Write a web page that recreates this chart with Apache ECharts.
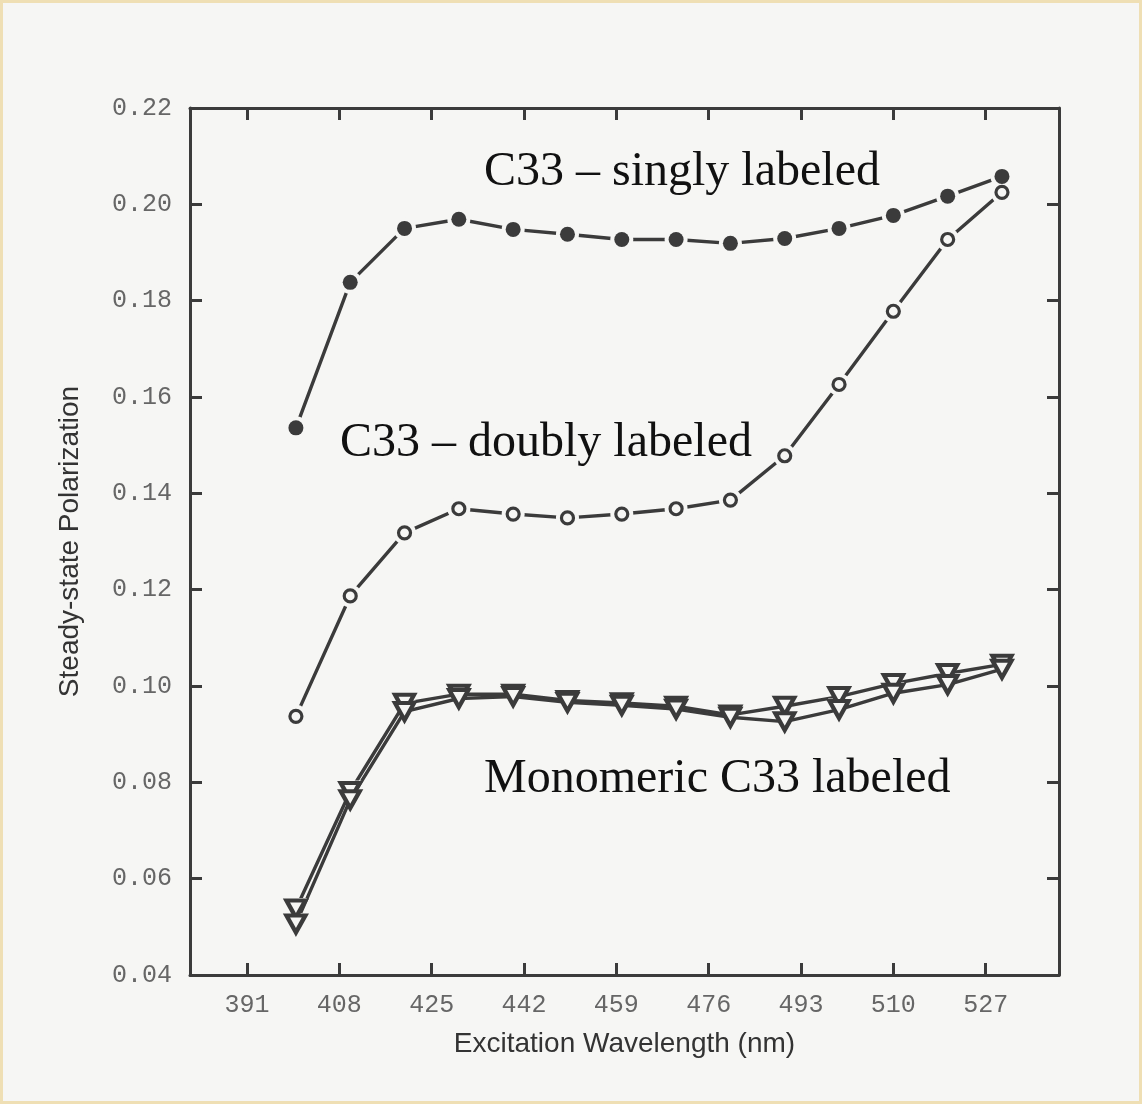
<!DOCTYPE html>
<html>
<head>
<meta charset="utf-8">
<script src="https://cdn.jsdelivr.net/npm/echarts@6/dist/echarts.min.js"></script>
<style>
  html, body { margin: 0; padding: 0; background: #f6f6f4; }
  #chart { position: absolute; left: 0; top: 0; width: 1142px; height: 1104px; }
  #frame { position: absolute; left: 0; top: 0; width: 1142px; height: 1104px; box-sizing: border-box; border: 3px solid #efdfb4; pointer-events: none; }
</style>
</head>
<body>
<div id="chart"></div>
<div id="frame"></div>
<script>
// Excitation wavelengths (nm) of the measured points
const wavelengths = [400, 410, 420, 430, 440, 450, 460, 470, 480, 490, 500, 510, 520, 530];
// Steady-state polarization values
const singly  = [0.1536, 0.1838, 0.1950, 0.1969, 0.1948, 0.1938, 0.1927, 0.1927, 0.1919, 0.1929, 0.1950, 0.1977, 0.2017, 0.2058];
const doubly  = [0.0937, 0.1187, 0.1318, 0.1368, 0.1357, 0.1349, 0.1357, 0.1368, 0.1386, 0.1478, 0.1626, 0.1778, 0.1927, 0.2025];
const monoA   = [0.0537, 0.0781, 0.0964, 0.0983, 0.0983, 0.0970, 0.0965, 0.0958, 0.0940, 0.0958, 0.0978, 0.1005, 0.1026, 0.1045];
const monoB   = [0.0506, 0.0764, 0.0947, 0.0974, 0.0978, 0.0966, 0.0960, 0.0952, 0.0935, 0.0926, 0.0951, 0.0985, 0.1003, 0.1035];
// Axis tick labels
const xTicks = [391, 408, 425, 442, 459, 476, 493, 510, 527];
const yMin = 0.04, yMax = 0.22, yStep = 0.02;
// Annotation texts
const labels = ['C33 \u2013 singly labeled', 'C33 \u2013 doubly labeled', 'Monomeric C33 labeled'];

const BG = '#f6f6f4';
const INK = '#3b3b3b';
const pairs = arr => wavelengths.map((w, i) => [w, arr[i]]);

const chart = echarts.init(document.getElementById('chart'), null, { renderer: 'canvas' });

const axisLine = { show: true, lineStyle: { color: INK, width: 3 } };
const tickStyle = { show: true, inside: true, length: 12, lineStyle: { color: INK, width: 3 } };
const monoFont = { fontFamily: 'Liberation Mono', fontSize: 25, color: '#666' };

function lineSeries(data) {
  return { type: 'line', data: pairs(data), showSymbol: false, symbol: 'none', z: 2,
           lineStyle: { color: INK, width: 3.4 }, silent: true, animation: false };
}
function haloSeries(data, size, symbol, rotate) {
  return { type: 'scatter', data: pairs(data), symbol: symbol, symbolSize: size, symbolRotate: rotate || 0, z: 3,
           itemStyle: { color: BG, opacity: 1 }, silent: true, animation: false };
}

const option = {
  backgroundColor: BG,
  animation: false,
  grid: { left: 190, right: 83, top: 108, bottom: 129 },
  xAxis: [
    {
      type: 'value', min: 380.5, max: 540.5, position: 'bottom',
      axisLine: axisLine,
      axisTick: Object.assign({}, tickStyle, { customValues: xTicks }),
      axisLabel: Object.assign({ customValues: xTicks, margin: 18 }, monoFont),
      splitLine: { show: false },
      name: 'Excitation Wavelength (nm)', nameLocation: 'middle', nameGap: 55,
      nameTextStyle: { fontFamily: 'Liberation Sans', fontSize: 28, color: '#333' }
    },
    {
      type: 'value', min: 380.5, max: 540.5, position: 'top',
      axisLine: axisLine,
      axisTick: Object.assign({}, tickStyle, { customValues: xTicks }),
      axisLabel: { show: false },
      splitLine: { show: false }
    }
  ],
  yAxis: [
    {
      type: 'value', min: yMin, max: yMax, interval: yStep, position: 'left',
      axisLine: axisLine, axisTick: tickStyle,
      axisLabel: Object.assign({ margin: 18, formatter: v => v.toFixed(2) }, monoFont),
      splitLine: { show: false },
      name: 'Steady-state Polarization', nameLocation: 'middle', nameGap: 106, nameRotate: 90,
      nameTextStyle: { fontFamily: 'Liberation Sans', fontSize: 28, color: '#333' }
    },
    {
      type: 'value', min: yMin, max: yMax, interval: yStep, position: 'right',
      axisLine: axisLine, axisTick: tickStyle,
      axisLabel: { show: false }, splitLine: { show: false }
    }
  ],
  series: [
    lineSeries(singly),
    lineSeries(doubly),
    lineSeries(monoA),
    lineSeries(monoB),
    haloSeries(singly, 23, 'circle'),
    haloSeries(doubly, 23, 'circle'),
    haloSeries(monoA, 22, 'triangle', 180),
    haloSeries(monoB, 22, 'triangle', 180),
    { type: 'scatter', name: 'singly', data: pairs(singly), symbol: 'circle', symbolSize: 15, z: 4,
      itemStyle: { color: INK, opacity: 1 }, animation: false },
    { type: 'scatter', name: 'doubly', data: pairs(doubly), symbol: 'circle', symbolSize: 12, z: 4,
      itemStyle: { color: BG, borderColor: INK, borderWidth: 3.2, opacity: 1 }, animation: false },
    { type: 'scatter', name: 'monoA', data: pairs(monoA), symbol: 'triangle', symbolRotate: 180, symbolSize: [19, 17], z: 4,
      itemStyle: { color: BG, borderColor: INK, borderWidth: 4.2, opacity: 1 }, animation: false },
    { type: 'scatter', name: 'monoB', data: pairs(monoB), symbol: 'triangle', symbolRotate: 180, symbolSize: [19, 17], z: 4,
      itemStyle: { color: BG, borderColor: INK, borderWidth: 4.2, opacity: 1 }, animation: false }
  ],
  graphic: [
    { type: 'text', left: 484, top: 148, style: { text: labels[0], font: '48px "Liberation Serif"', fill: '#111' } },
    { type: 'text', left: 340, top: 419, style: { text: labels[1], font: '48px "Liberation Serif"', fill: '#111' } },
    { type: 'text', left: 484, top: 755, style: { text: labels[2], font: '48px "Liberation Serif"', fill: '#111' } }
  ]
};
chart.setOption(option);
</script>
</body>
</html>
